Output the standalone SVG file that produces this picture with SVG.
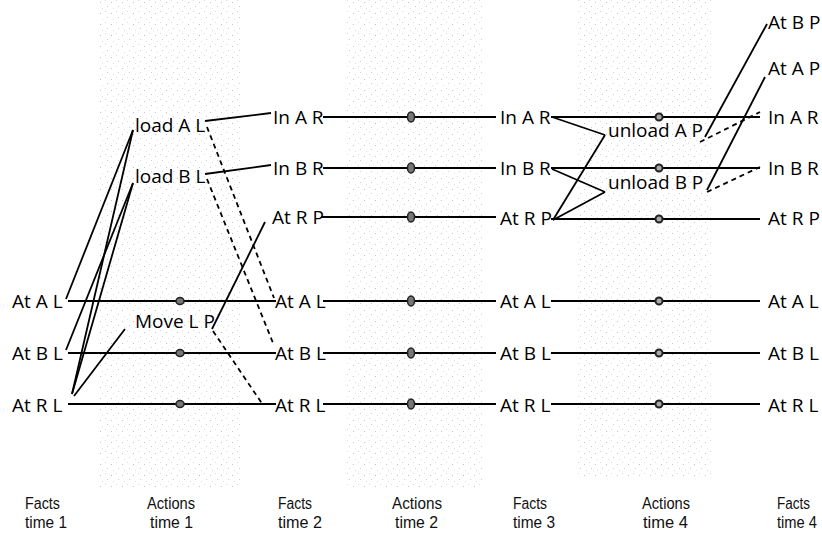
<svg xmlns="http://www.w3.org/2000/svg" width="822" height="533" viewBox="0 0 822 533">
<style>
.lbl{font-family:"Open Sans","Liberation Sans",sans-serif;font-size:19px;fill:#000}
.cap{font-family:"Liberation Sans",Arial,sans-serif;font-size:16px;fill:#111}
.ln{stroke:#000;stroke-width:1.8;fill:none}
.ds{stroke:#000;stroke-width:1.8;fill:none;stroke-dasharray:5,4}
.d1{fill:#777;stroke:#222;stroke-width:1.5}
.d4{fill:#aaa;stroke:#222;stroke-width:2}
</style>
<defs>
<pattern id="stip" width="11" height="11" patternUnits="userSpaceOnUse">
<rect x="1" y="2" width="1" height="1" fill="#c4c4c4"/>
<rect x="6" y="0" width="1" height="1" fill="#dcdcdc"/>
<rect x="8" y="6" width="1" height="1" fill="#cfcfcf"/>
<rect x="3" y="8" width="1" height="1" fill="#e0e0e0"/>
</pattern>
</defs>
<rect width="822" height="533" fill="#fff"/>
<g id="bands">
<rect x="100" y="0" width="140" height="487" fill="url(#stip)"/>
<rect x="345" y="0" width="140" height="488" fill="url(#stip)"/>
<rect x="577" y="0" width="135" height="478" fill="url(#stip)"/>
</g>
<g id="connectors">
<line class="ln" x1="68" y1="301" x2="276" y2="301"/>
<line class="ln" x1="68" y1="353" x2="276" y2="353"/>
<line class="ln" x1="68" y1="404" x2="276" y2="404"/>
<line class="ln" x1="323" y1="117" x2="496" y2="117"/>
<line class="ln" x1="323" y1="168" x2="496" y2="168"/>
<line class="ln" x1="321" y1="217" x2="496" y2="217"/>
<line class="ln" x1="323" y1="301" x2="496" y2="301"/>
<line class="ln" x1="323" y1="353" x2="496" y2="353"/>
<line class="ln" x1="323" y1="404" x2="496" y2="404"/>
<line class="ln" x1="551" y1="117" x2="760" y2="117"/>
<line class="ln" x1="551" y1="168" x2="760" y2="168"/>
<line class="ln" x1="551" y1="219" x2="760" y2="219"/>
<line class="ln" x1="551" y1="301" x2="760" y2="301"/>
<line class="ln" x1="551" y1="353" x2="760" y2="353"/>
<line class="ln" x1="551" y1="404" x2="760" y2="404"/>
<line class="ln" x1="66" y1="299" x2="133" y2="130"/>
<line class="ln" x1="72" y1="394" x2="133" y2="130"/>
<line class="ln" x1="66" y1="350" x2="133" y2="183"/>
<line class="ln" x1="72" y1="394" x2="133" y2="183"/>
<line class="ln" x1="74" y1="396" x2="125" y2="329"/>
<line class="ln" x1="205" y1="121" x2="271" y2="113"/>
<line class="ds" x1="207" y1="127" x2="274" y2="298"/>
<line class="ln" x1="205" y1="174" x2="271" y2="165"/>
<line class="ds" x1="207" y1="179" x2="273" y2="343"/>
<line class="ln" x1="212" y1="329" x2="265" y2="222"/>
<line class="ds" x1="213" y1="331" x2="263" y2="405"/>
<line class="ln" x1="552" y1="117" x2="605" y2="135"/>
<line class="ln" x1="553" y1="220" x2="605" y2="135"/>
<line class="ln" x1="552" y1="169" x2="605" y2="192"/>
<line class="ln" x1="553" y1="220" x2="605" y2="192"/>
<line class="ln" x1="705" y1="137" x2="767" y2="24"/>
<line class="ds" x1="700" y1="142" x2="760" y2="112"/>
<line class="ln" x1="707" y1="190" x2="765" y2="77"/>
<line class="ds" x1="707" y1="192" x2="760" y2="167"/>
</g>
<g id="noops">
<ellipse class="d1" cx="180" cy="301" rx="4" ry="3.5"/>
<ellipse class="d1" cx="180" cy="353" rx="4" ry="3.5"/>
<ellipse class="d1" cx="180" cy="404" rx="4" ry="3.5"/>
<ellipse class="d1" cx="411" cy="117" rx="3.5" ry="5"/>
<ellipse class="d1" cx="411" cy="168" rx="3.5" ry="5"/>
<ellipse class="d1" cx="411" cy="217" rx="3.5" ry="5"/>
<ellipse class="d1" cx="411" cy="301" rx="3.5" ry="5"/>
<ellipse class="d1" cx="411" cy="353" rx="3.5" ry="5"/>
<ellipse class="d1" cx="411" cy="404" rx="3.5" ry="5"/>
<circle class="d4" cx="659" cy="117" r="3.5"/>
<circle class="d4" cx="659" cy="168" r="3.5"/>
<circle class="d4" cx="659" cy="219" r="3.5"/>
<circle class="d4" cx="659" cy="301" r="3.5"/>
<circle class="d4" cx="659" cy="353" r="3.5"/>
<circle class="d4" cx="659" cy="404" r="3.5"/>
</g>
<g id="facts1">
<text class="lbl" x="12" y="308">At A L</text>
<text class="lbl" x="12" y="360">At B L</text>
<text class="lbl" x="12" y="412">At R L</text>
</g>
<g id="actions1">
<text class="lbl" x="135" y="132">load A L</text>
<text class="lbl" x="135" y="183">load B L</text>
<text class="lbl" x="135" y="328">Move L P</text>
</g>
<g id="facts2">
<text class="lbl" x="273" y="124">In A R</text>
<text class="lbl" x="272" y="224">At R P</text>
<text class="lbl" x="273" y="175">In B R</text>
<text class="lbl" x="275" y="308">At A L</text>
<text class="lbl" x="275" y="360">At B L</text>
<text class="lbl" x="275" y="412">At R L</text>
</g>
<g id="facts3">
<text class="lbl" x="500" y="124">In A R</text>
<text class="lbl" x="500" y="175">In B R</text>
<text class="lbl" x="500" y="225">At R P</text>
<text class="lbl" x="500" y="308">At A L</text>
<text class="lbl" x="500" y="360">At B L</text>
<text class="lbl" x="500" y="412">At R L</text>
</g>
<g id="actions4">
<text class="lbl" x="608" y="137">unload A P</text>
<text class="lbl" x="608" y="189">unload B P</text>
</g>
<g id="facts4">
<text class="lbl" x="768" y="29">At B P</text>
<text class="lbl" x="768" y="75">At A P</text>
<text class="lbl" x="768" y="124">In A R</text>
<text class="lbl" x="768" y="175">In B R</text>
<text class="lbl" x="768" y="225">At R P</text>
<text class="lbl" x="768" y="308">At A L</text>
<text class="lbl" x="768" y="360">At B L</text>
<text class="lbl" x="768" y="412">At R L</text>
</g>
<g id="captions">
<text class="cap" x="25" y="509" textLength="35" lengthAdjust="spacingAndGlyphs">Facts</text><text class="cap" x="25" y="528" textLength="42" lengthAdjust="spacingAndGlyphs">time 1</text>
<text class="cap" x="147" y="509" textLength="48" lengthAdjust="spacingAndGlyphs">Actions</text><text class="cap" x="150" y="528" textLength="43" lengthAdjust="spacingAndGlyphs">time 1</text>
<text class="cap" x="278" y="509" textLength="34" lengthAdjust="spacingAndGlyphs">Facts</text><text class="cap" x="278" y="528" textLength="44" lengthAdjust="spacingAndGlyphs">time 2</text>
<text class="cap" x="392" y="509" textLength="50" lengthAdjust="spacingAndGlyphs">Actions</text><text class="cap" x="395" y="528" textLength="43" lengthAdjust="spacingAndGlyphs">time 2</text>
<text class="cap" x="513" y="509" textLength="34" lengthAdjust="spacingAndGlyphs">Facts</text><text class="cap" x="513" y="528" textLength="42" lengthAdjust="spacingAndGlyphs">time 3</text>
<text class="cap" x="642" y="509" textLength="48" lengthAdjust="spacingAndGlyphs">Actions</text><text class="cap" x="643" y="528" textLength="45" lengthAdjust="spacingAndGlyphs">time 4</text>
<text class="cap" x="777" y="509" textLength="33" lengthAdjust="spacingAndGlyphs">Facts</text><text class="cap" x="777" y="528" textLength="40" lengthAdjust="spacingAndGlyphs">time 4</text>
</g>
</svg>
